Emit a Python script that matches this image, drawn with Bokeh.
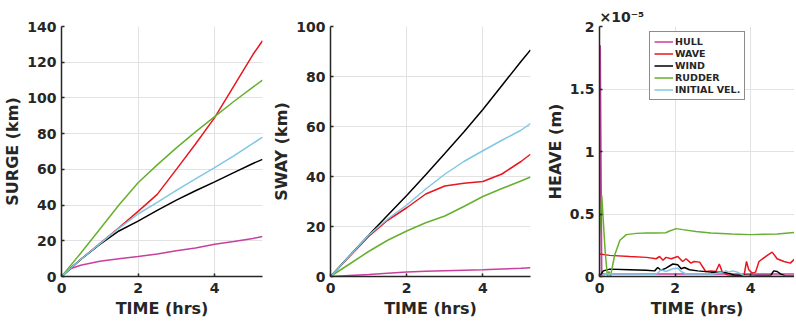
from bokeh.plotting import figure
from bokeh.layouts import row
from bokeh.models import Range1d, FixedTicker, NumeralTickFormatter
from bokeh.embed import file_html
from bokeh.resources import INLINE

# ---------------- data ----------------
series_names = ["HULL", "WAVE", "WIND", "RUDDER", "INITIAL VEL."]
series_colors = ["#c8409e", "#e8161e", "#000000", "#66b02e", "#80c8e2"]

# SURGE (km) vs TIME (hrs)
surge_t = [0, 0.25, 0.5, 1, 1.5, 2, 2.5, 3, 3.5, 4, 4.5, 5, 5.25]
surge_hull = [0, 4.5, 6.3, 8.5, 10.0, 11.2, 12.6, 14.4, 16.0, 18.0, 19.6, 21.3, 22.4]
surge_wave = [0, 4.8, 9.5, 18.5, 27.3, 36.5, 46.0, 60.0, 74.2, 89.0, 106.6, 124.3, 132.0]
surge_wind = [0, 4.8, 9.5, 18.0, 25.5, 31.0, 37.0, 42.8, 48.0, 53.0, 58.2, 63.3, 65.6]
surge_rudder = [0, 6.5, 13.0, 26.5, 40.0, 52.5, 62.5, 72.0, 81.0, 89.5, 98.0, 106.0, 110.0]
surge_init = [0, 4.8, 9.5, 18.3, 27.0, 35.0, 41.5, 48.2, 54.7, 61.0, 67.5, 74.5, 78.0]

# SWAY (km) vs TIME (hrs)
sway_t = [0, 0.5, 1, 1.5, 2, 2.5, 3, 3.5, 4, 4.5, 5, 5.25]
sway_hull = [0, 0.4, 0.8, 1.3, 1.8, 2.1, 2.3, 2.5, 2.7, 3.0, 3.3, 3.5]
sway_wave = [0, 8.0, 16.0, 22.5, 27.5, 33.0, 36.2, 37.3, 38.0, 41.0, 46.0, 48.9]
sway_wind = [0, 8.3, 16.5, 24.5, 32.4, 40.7, 49.2, 57.8, 66.8, 76.4, 86.0, 90.6]
sway_rudder = [0, 5.0, 10.0, 14.5, 18.2, 21.5, 24.2, 28.0, 32.0, 35.2, 38.2, 39.8]
sway_init = [0, 8.2, 16.5, 23.0, 28.6, 35.0, 40.9, 46.0, 50.3, 54.5, 58.5, 61.2]

# HEAVE (units of 1e-5 m) vs TIME (hrs)
heave_hull_t = [0, 0.02, 0.06, 0.2, 1, 2, 3, 4, 5, 5.25]
heave_hull = [0, 1.85, 0.02, 0.02, 0.02, 0.02, 0.02, 0.02, 0.02, 0.02]
heave_wave_t = [0, 0.27, 0.8, 1.24, 1.5, 1.59, 1.68, 1.76, 1.9, 2.07, 2.2, 2.29, 2.42, 2.5,
                2.65, 2.81, 2.95, 3.08, 3.17, 3.25, 3.39, 3.65, 3.82, 3.89, 3.95, 4.04,
                4.13, 4.22, 4.44, 4.57, 4.7, 4.88, 5.05, 5.21]
heave_wave = [0.18, 0.169, 0.16, 0.153, 0.142, 0.16, 0.13, 0.153, 0.142, 0.16, 0.12, 0.142,
              0.107, 0.12, 0.115, 0.04, 0.045, 0.04, 0.1, 0.035, 0.013, 0.008, 0.0, 0.12,
              0.054, 0.027, 0.035, 0.12, 0.169, 0.195, 0.142, 0.12, 0.107, 0.153]
heave_wind_t = [0, 0.1, 0.27, 0.8, 1.24, 1.46, 1.54, 1.63, 1.76, 1.94, 2.07, 2.16, 2.25,
                2.38, 2.6, 2.95, 3.3, 3.56, 4.0, 4.53, 4.61, 4.7, 4.8, 4.92, 5.25]
heave_wind = [0.0, 0.045, 0.059, 0.054, 0.05, 0.045, 0.072, 0.05, 0.067, 0.1, 0.094, 0.062,
              0.072, 0.054, 0.045, 0.035, 0.035, 0.013, 0.008, 0.008, 0.045, 0.04, 0.019,
              0.005, 0.003]
heave_rudder_t = [0, 0.06, 0.15, 0.21, 0.25, 0.29, 0.4, 0.54, 0.71, 0.97, 1.24, 1.5, 1.76,
                  1.82, 2.03, 2.2, 2.55, 2.95, 3.5, 4.0, 4.7, 5.21]
heave_rudder = [0.33, 0.65, 0.2, 0.0, 0.04, 0.0, 0.17, 0.29, 0.335, 0.345, 0.348, 0.348, 0.35,
                0.36, 0.383, 0.375, 0.36, 0.348, 0.34, 0.335, 0.34, 0.353]
heave_init_t = [0, 0.18, 0.8, 1.46, 1.54, 1.63, 1.76, 1.94, 2.07, 2.16, 2.29, 2.42, 3.0, 3.25,
                3.34, 3.43, 3.52, 3.65, 3.82, 4.18, 5.25]
heave_init = [0.0, 0.02, 0.02, 0.018, 0.027, 0.054, 0.04, 0.062, 0.067, 0.04, 0.02, 0.02, 0.02,
              0.035, 0.045, 0.035, 0.045, 0.035, 0.008, 0.003, 0.003]

x_ticks = [0, 2, 4]
surge_ticks = [0, 20, 40, 60, 80, 100, 120, 140]
sway_ticks = [0, 20, 40, 60, 80, 100]
heave_ticks = [0, 0.5, 1, 1.5, 2]
heave_exponent = "\u00d710\u207b\u2075"

# ---------------- styling ----------------
FONT = "DejaVu Sans"
TXT = "#262626"
GRID = "#e2e2e2"
H = 320


def make_fig(width, xr, yr, yticks, ylabel, border_right):
    p = figure(width=width, height=H, x_range=Range1d(*xr), y_range=Range1d(*yr),
               output_backend="svg", toolbar_location=None,
               min_border_left=0, min_border_right=border_right,
               min_border_top=26, min_border_bottom=0)
    p.outline_line_color = None
    p.background_fill_color = "white"
    p.border_fill_color = "white"
    p.xaxis.ticker = FixedTicker(ticks=x_ticks)
    p.yaxis.ticker = FixedTicker(ticks=yticks)
    p.xaxis.axis_label = "TIME (hrs)"
    p.yaxis.axis_label = ylabel
    for ax in (p.xaxis, p.yaxis):
        ax.axis_line_color = TXT
        ax.axis_line_width = 1.5
        ax.major_tick_line_color = TXT
        ax.major_tick_line_width = 1.5
        ax.major_tick_in = 3
        ax.major_tick_out = 0
        ax.minor_tick_line_color = None
        ax.major_label_text_font = FONT
        ax.major_label_text_font_style = "bold"
        ax.major_label_text_font_size = "14px"
        ax.major_label_text_color = TXT
        ax.axis_label_text_font = FONT
        ax.axis_label_text_font_style = "bold"
        ax.axis_label_text_font_size = "16px"
        ax.axis_label_text_color = TXT
        ax.major_label_standoff = 5
        ax.axis_label_standoff = 2
    p.xaxis.major_label_standoff = 6
    p.xaxis.axis_label_standoff = 3
    p.xgrid.ticker = FixedTicker(ticks=x_ticks)
    p.ygrid.ticker = FixedTicker(ticks=yticks)
    for g in (p.xgrid, p.ygrid):
        g.grid_line_color = GRID
        g.grid_line_width = 1
    return p


p1 = make_fig(269, (0, 5.25), (0, 140), surge_ticks, "SURGE (km)", 7)
for ys, c in zip([surge_hull, surge_wave, surge_wind, surge_rudder, surge_init], series_colors):
    p1.line(surge_t, ys, line_color=c, line_width=1.5)

p2 = make_fig(273, (0, 5.25), (0, 100), sway_ticks, "SWAY (km)", 12)
for ys, c in zip([sway_hull, sway_wave, sway_wind, sway_rudder, sway_init], series_colors):
    p2.line(sway_t, ys, line_color=c, line_width=1.5)

p3 = make_fig(252, (0, 5.16), (0, 2), heave_ticks, "HEAVE (m)", 0)
p3.yaxis.formatter = NumeralTickFormatter(format="0.[0]")
heave_sets = [(heave_hull_t, heave_hull), (heave_wave_t, heave_wave), (heave_wind_t, heave_wind),
              (heave_rudder_t, heave_rudder), (heave_init_t, heave_init)]
for (ts, ys), c, name in zip(heave_sets, series_colors, series_names):
    p3.line(ts, ys, line_color=c, line_width=1.5, legend_label=name)

# exponent of the HEAVE axis, shown above the top-left corner of the frame
p3.title.text = heave_exponent
p3.title.align = "left"
p3.title.offset = 0
p3.title.standoff = 3
p3.title.text_font = FONT
p3.title.text_font_style = "bold"
p3.title.text_font_size = "14px"
p3.title.text_color = TXT

lg = p3.legend[0]
lg.location = (50, 176)
lg.border_line_color = "#1a1a1a"
lg.border_line_width = 1.5
lg.background_fill_color = "white"
lg.background_fill_alpha = 1
lg.label_text_font = FONT
lg.label_text_font_style = "bold"
lg.label_text_font_size = "9.5px"
lg.label_text_color = TXT
lg.label_height = 11
lg.glyph_height = 11
lg.glyph_width = 19
lg.label_standoff = 2
lg.spacing = 1
lg.padding = 4
lg.margin = 0

layout = row(p1, p2, p3)
open("out.html", "w").write(file_html(layout, INLINE))
